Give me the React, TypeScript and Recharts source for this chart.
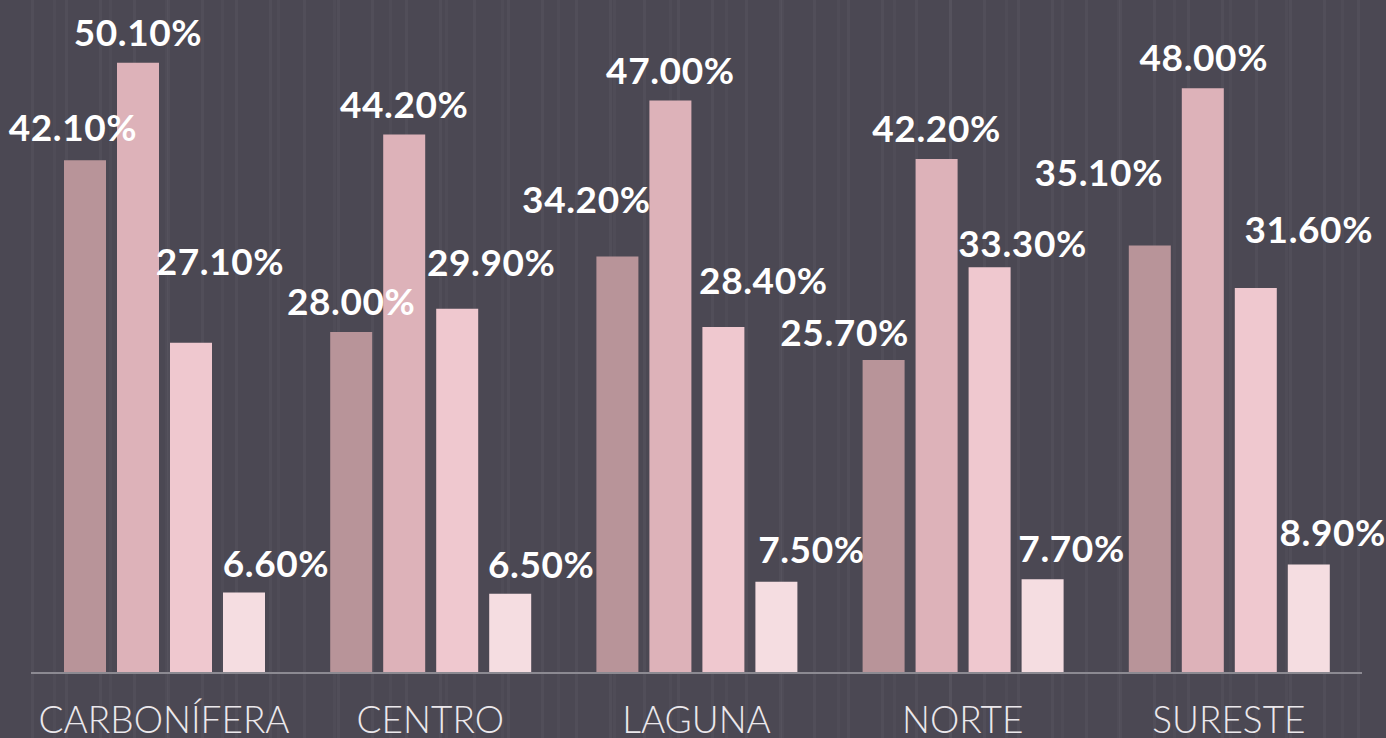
import { Bar, BarChart, XAxis, YAxis, LabelList } from "recharts"

const regions = ["CARBONÍFERA", "CENTRO", "LAGUNA", "NORTE", "SURESTE"]
const serie1 = [42.1, 28.0, 34.2, 25.7, 35.1]
const serie2 = [50.1, 44.2, 47.0, 42.2, 48.0]
const serie3 = [27.1, 29.9, 28.4, 33.3, 31.6]
const serie4 = [6.6, 6.5, 7.5, 7.7, 8.9]

const data = regions.map((name, i) => ({
  name,
  s1: serie1[i],
  s2: serie2[i],
  s3: serie3[i],
  s4: serie4[i],
}))

// label nudges (dx, dy) per region, copied from the hand-placed labels of the original
const series = [
  { key: "s1", color: "#b89499", nudge: [[-12, -34], [0, -31], [-31, -58], [-39, -28], [-51, -74]] },
  { key: "s2", color: "#ddb2b9", nudge: [[0, -31], [0, -31], [0, -31], [0, -31], [1, -32]] },
  { key: "s3", color: "#efc8cf", nudge: [[29, -82], [34, -47], [40, -48], [33, -25], [53, -60]] },
  { key: "s4", color: "#f5dde1", nudge: [[32, -30], [31, -30], [35, -33], [29, -32], [24, -33]] },
]

const makeLabel = (nudge: number[][]) => (props: any) => {
  const { x, y, width, value, index } = props
  const [dx, dy] = nudge[index] || [0, -31]
  return (
    <text
      x={x + width / 2 + dx}
      y={y + dy}
      textAnchor="middle"
      dominantBaseline="central"
      fill="#ffffff"
      fontFamily="Lato, 'Open Sans', sans-serif"
      fontWeight={700}
      fontSize={37}
      letterSpacing={0.6}
    >
      {`${Number(value).toFixed(2)}%`}
    </text>
  )
}

const CategoryTick = (props: any) => {
  const { x, y, payload } = props
  return (
    <text
      x={x}
      y={y + 37}
      textAnchor="middle"
      dominantBaseline="central"
      fill="#ebe8ec"
      fontFamily="Lato, 'Open Sans', sans-serif"
      fontWeight={300}
      fontSize={37}
    >
      {payload.value}
    </text>
  )
}

export default function App() {
  return (
    <div
      style={{
        position: "fixed",
        left: 0,
        top: 0,
        width: 1386,
        height: 738,
        backgroundColor: "#4b4853",
        backgroundImage:
          "repeating-linear-gradient(90deg, rgba(255,255,255,0) 0px, rgba(255,255,255,0) 31px, rgba(255,255,255,0.035) 31px, rgba(255,255,255,0.035) 34px), repeating-linear-gradient(90deg, rgba(255,255,255,0) 0px, rgba(255,255,255,0) 53px, rgba(255,255,255,0.025) 53px, rgba(255,255,255,0.025) 56px)",
      }}
    >
      <BarChart
        width={1386}
        height={738}
        data={data}
        margin={{ top: 3, right: 24, left: 31, bottom: 0 }}
        barSize={42}
        barGap={11}
      >
        <XAxis
          dataKey="name"
          height={65}
          interval={0}
          tickLine={false}
          axisLine={{ stroke: "#8c8a92", strokeWidth: 2 }}
          tick={<CategoryTick />}
        />
        <YAxis hide domain={[0, 55]} />
        {series.map((s) => (
          <Bar key={s.key} dataKey={s.key} fill={s.color} isAnimationActive={false}>
            <LabelList dataKey={s.key} content={makeLabel(s.nudge)} />
          </Bar>
        ))}
      </BarChart>
    </div>
  )
}
